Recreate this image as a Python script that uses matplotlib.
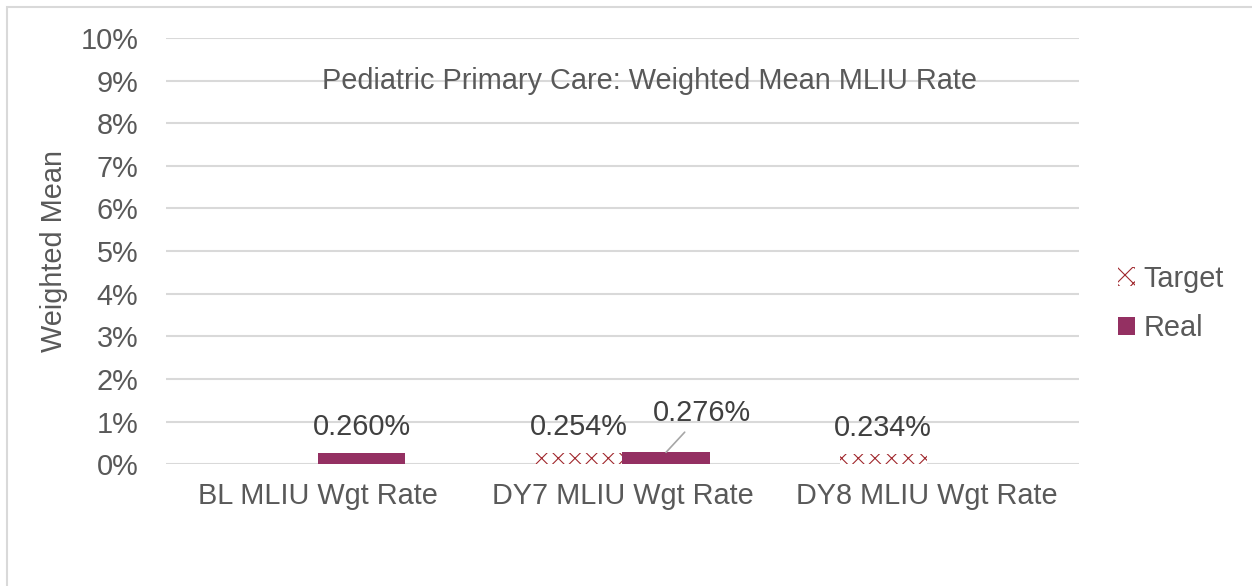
import numpy as np
import matplotlib.pyplot as plt
from matplotlib.patches import Rectangle

plt.rcParams['font.family'] = ['Liberation Sans', 'DejaVu Sans']
plt.rcParams['hatch.linewidth'] = 0.8

categories = ['BL MLIU Wgt Rate', 'DY7 MLIU Wgt Rate', 'DY8 MLIU Wgt Rate']
target = [np.nan, 0.254, 0.234]
real = [0.260, 0.276, np.nan]
yticks = np.arange(0, 11, 1)

grey_txt = '#595959'
grid_col = '#D9D9D9'
real_col = '#943062'
target_col = '#A0282E'
fs = 20.8

fig = plt.figure(figsize=(12.52, 5.86), dpi=100)
ax = fig.add_axes([0.1326, 0.208, 0.7292, 0.727])

x = np.arange(len(categories))
w = 0.286
tb = ax.bar(x - w / 2, target, w, facecolor='white', edgecolor=target_col,
            linewidth=0, hatch='xx', label='Target')
rb = ax.bar(x + w / 2, real, w, color=real_col, linewidth=0, label='Real')

ax.set_xlim(-0.5, 2.5)
ax.set_ylim(0, 10)
ax.set_yticks(yticks)
ax.set_yticklabels([f'{v}%' for v in yticks])
ax.set_xticks(x)
ax.set_xticklabels(categories)
ax.tick_params(axis='both', length=0, labelsize=fs, colors=grey_txt)
ax.tick_params(axis='y', pad=20)
ax.tick_params(axis='x', pad=13)
for s in ax.spines.values():
    s.set_visible(False)
ax.grid(axis='y', color=grid_col, linewidth=1.5)
ax.set_axisbelow(True)

ax.set_ylabel('Weighted Mean', fontsize=fs, color=grey_txt, labelpad=9)
ax.text(1.09, 9.0, 'Pediatric Primary Care: Weighted Mean MLIU Rate',
        ha='center', va='center', fontsize=fs, color=grey_txt)

lab_col = '#404040'
for xi, v in zip(x, target):
    if not np.isnan(v):
        ax.annotate(f'{v:.3f}%', (xi - w / 2, v), xytext=(0, 9),
                    textcoords='offset points', ha='center', va='bottom',
                    fontsize=fs, color=lab_col)
for xi, v in zip(x, real):
    if np.isnan(v):
        continue
    if xi == 1:
        ax.annotate(f'{v:.3f}%', (xi + w / 2, v), xytext=(26, 18),
                    textcoords='offset points', ha='center', va='bottom',
                    fontsize=fs, color=lab_col,
                    arrowprops=dict(arrowstyle='-', color='#A6A6A6', lw=1.2,
                                    shrinkA=2, shrinkB=0))
    else:
        ax.annotate(f'{v:.3f}%', (xi + w / 2, v), xytext=(0, 9),
                    textcoords='offset points', ha='center', va='bottom',
                    fontsize=fs, color=lab_col)

fig.legend(handles=[tb, rb], loc='center left', bbox_to_anchor=(0.872, 0.482),
           frameon=False, fontsize=fs, labelcolor=grey_txt,
           handlelength=0.6, handleheight=0.6, handletextpad=0.3,
           labelspacing=0.75)

fig.patches.append(Rectangle((7 / 1252, -0.1), 2, 1.1 - 7 / 586,
                             transform=fig.transFigure, fill=False,
                             edgecolor=grid_col, linewidth=1.5))

fig.savefig('out.png', dpi=100)
